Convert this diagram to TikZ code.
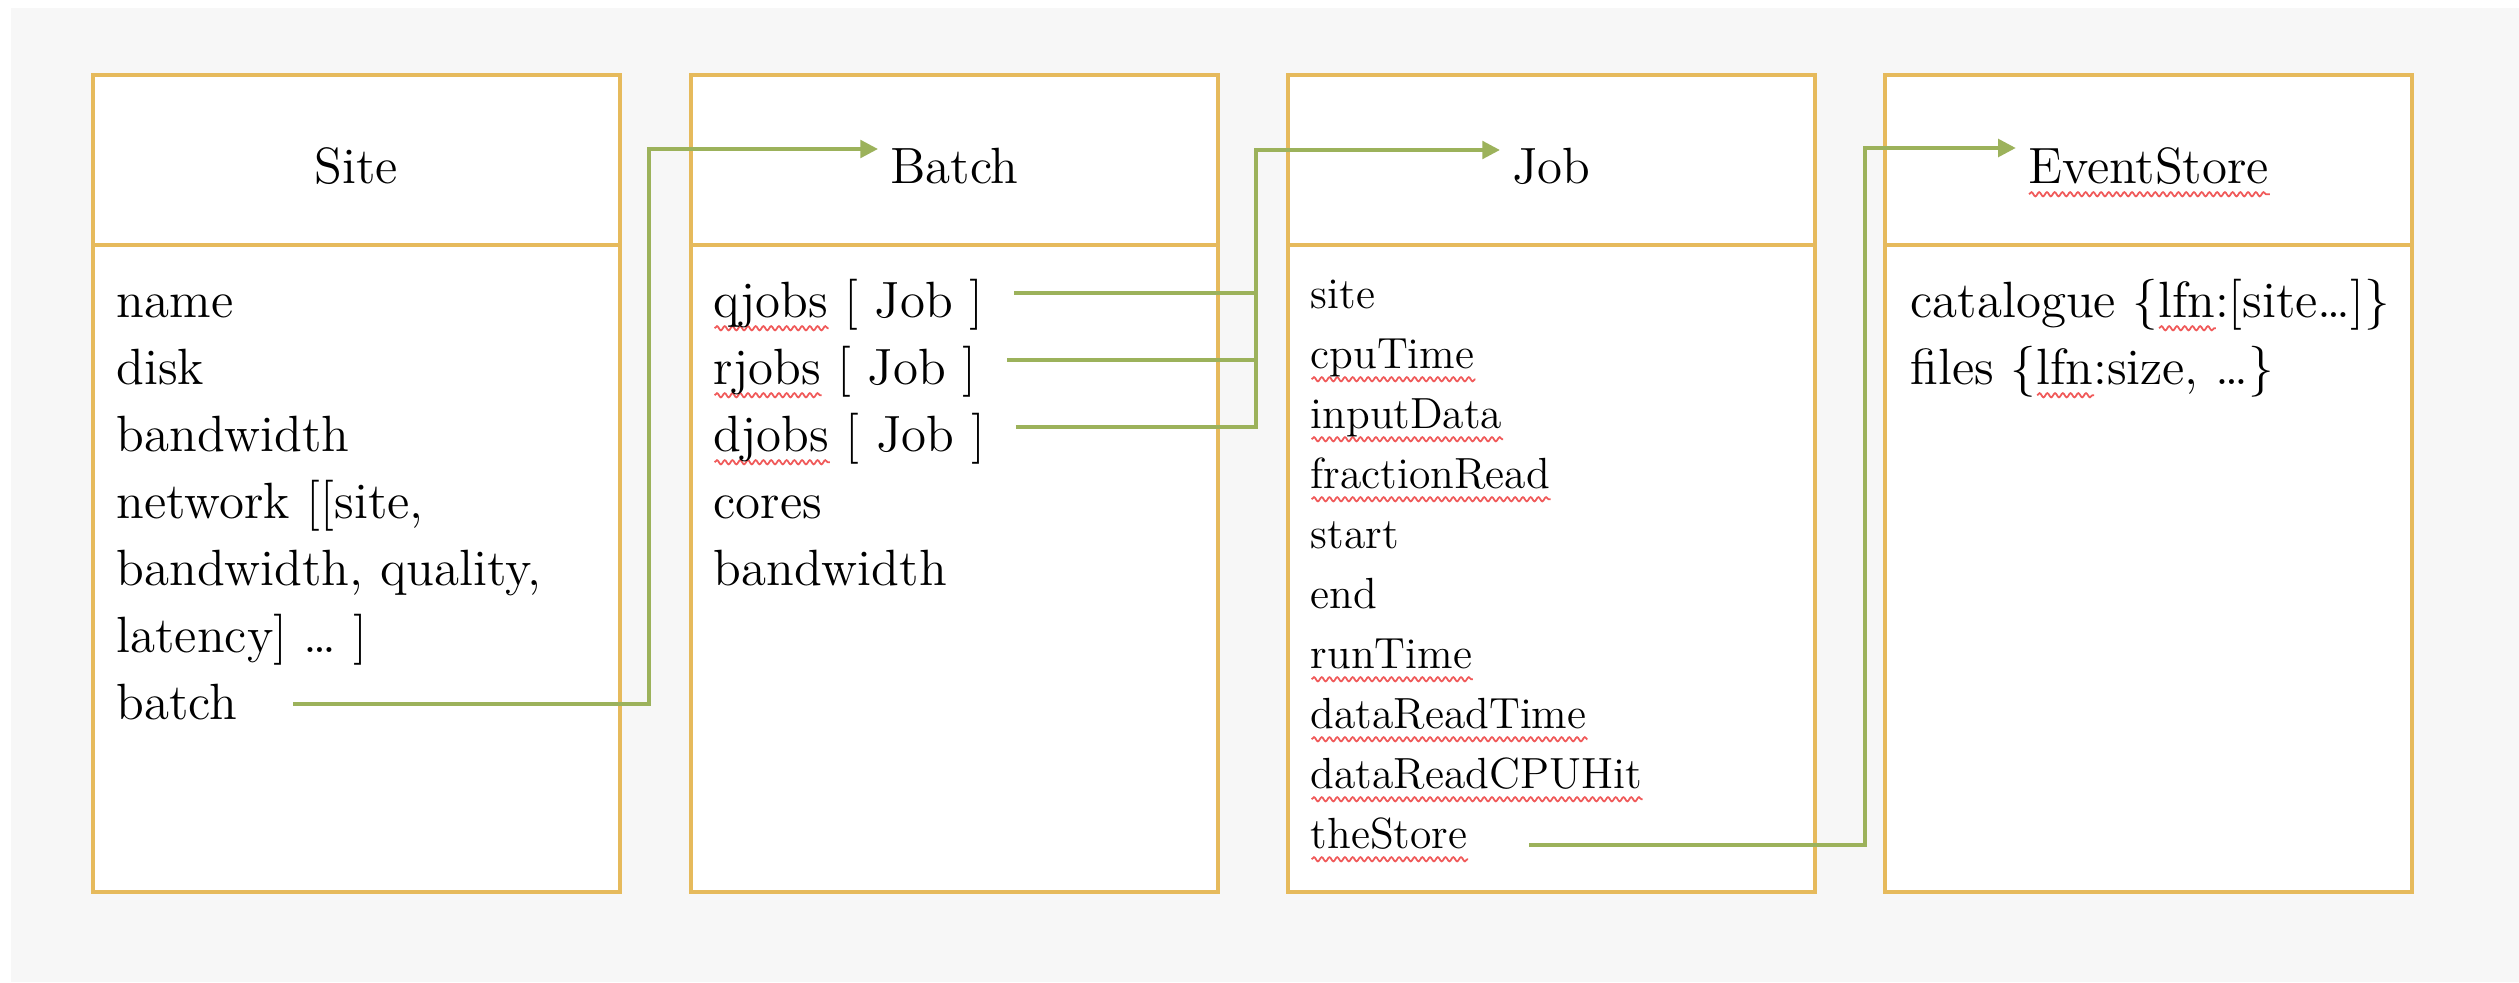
\documentclass[tikz,border=0pt]{standalone}
\usetikzlibrary{arrows.meta,decorations.pathmorphing}
\definecolor{boxgold}{HTML}{E6BA5C}
\definecolor{linkgreen}{HTML}{9CB25B}
\definecolor{bggray}{HTML}{F7F7F7}
\definecolor{spellred}{HTML}{F05A5A}
\newcommand\spell[1]{\setbox0=\hbox{#1}\rlap{\tikz[baseline=0pt,x=1pt,y=1pt]
  \draw[spellred, line width=0.5pt, decorate,
    decoration={snake, amplitude=0.6pt, segment length=2.2pt}]
  (0pt,-3.2pt) -- (\the\wd0,-3.2pt);}#1}
\tikzset{
  classbox/.style={draw=boxgold, fill=white, line width=1pt,
    minimum width=5.27cm, minimum height=8.17cm, inner sep=0pt},
  divider/.style={draw=boxgold, line width=1pt},
  title/.style={anchor=base, font=\fontsize{14.5}{17}\selectfont},
  attr/.style={anchor=base west, inner sep=0pt, font=\fontsize{14.5}{17}\selectfont},
  jobattr/.style={attr, font=\fontsize{12.4}{15}\selectfont},
  link/.style={draw=linkgreen, line width=1pt},
  linkarrow/.style={link, -{Triangle[length=5pt,width=5pt]}}
}

\begin{document}
\begin{tikzpicture}[x=0.01cm,y=-0.01cm]
\useasboundingbox (0,0) rectangle (2519,982);
\fill[bggray] (11,8) rectangle (2519,982);
% class boxes
\node[classbox] (site) at (356.5,483.5) {};
\node[classbox] (batch) at (954.5,483.5) {};
\node[classbox] (job) at (1551.5,483.5) {};
\node[classbox] (store) at (2148.5,483.5) {};
\foreach \b in {site,batch,job,store}
  \draw[divider] ([yshift=-1.72cm]\b.north west) -- ([yshift=-1.72cm]\b.north east);
% titles
\node[title] (siteT) at (356.5,183) {Site};
\node[title] (batchT) at (954.5,183) {Batch};
\node[title] (jobT) at (1551.5,183) {Job};
\node[title] (storeT) at (2148.5,183) {\spell{EventStore}};
% attributes
\foreach \txt [count=\i from 0] in {name, disk, bandwidth, {network [[site,},
    {bandwidth, quality,}, {latency] … ]}, batch}
  \node[attr] (site\i) at (116,317+67*\i) {\txt};
\foreach \txt [count=\i from 0] in {{\spell{qjobs} [ Job ]}, {\spell{rjobs} [ Job ]},
    {\spell{djobs} [ Job ]}, cores, bandwidth}
  \node[attr] (batch\i) at (713,317+67*\i) {\txt};
\foreach \txt [count=\i from 0] in {site, \spell{cpuTime}, \spell{inputData},
    \spell{fractionRead}, start, end, \spell{runTime}, \spell{dataReadTime},
    \spell{dataReadCPUHit}, \spell{theStore}}
  \node[jobattr] (job\i) at (1310,308+60*\i) {\txt};
\node[attr] (store0) at (1910,317) {catalogue \{\spell{lfn}:[site…]\}};
\node[attr] (store1) at (1910,384) {files \{\spell{lfn}:size, …\}};
% links
\coordinate (batchbus) at (649,149);
\coordinate (jobbus) at (1256,150);
\coordinate (storebus) at (1865,148);
\draw[linkarrow] ([shift={(55,-15)}]site6.base east) -| (batchbus) -- (batchT.base west |- batchbus);
\draw[link] ([shift={(30,-24)}]batch0.base east) -| (jobbus);
\draw[link] ([shift={(30,-24)}]batch1.base east) -| (jobbus);
\draw[linkarrow] ([shift={(30,-24)}]batch2.base east) -| (jobbus) -- (jobT.base west |- jobbus);
\draw[linkarrow] ([shift={(61,-3)}]job9.base east) -| (storebus) -- (storeT.base west |- storebus);
\end{tikzpicture}
\end{document}
